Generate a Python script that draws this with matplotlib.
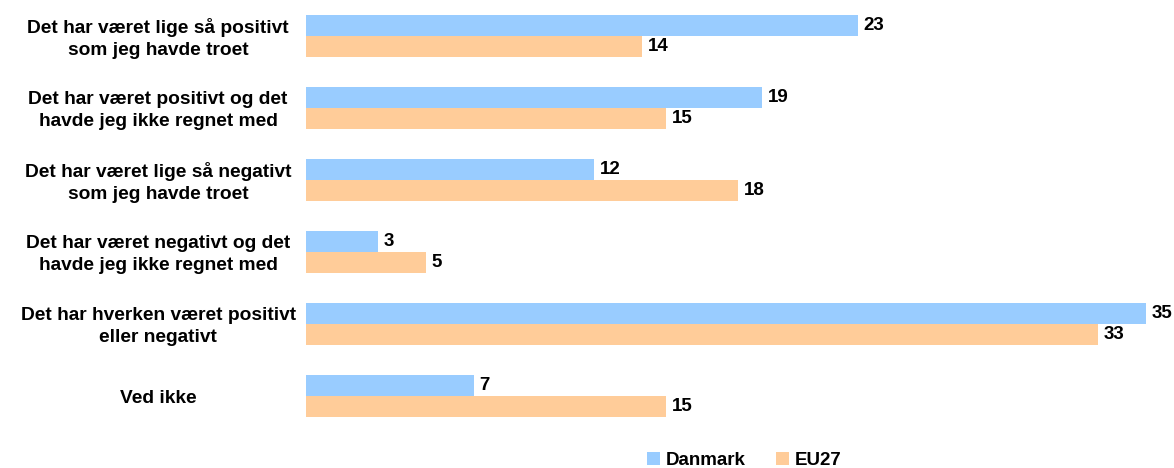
import matplotlib
matplotlib.use("Agg")
import matplotlib.pyplot as plt
import matplotlib.transforms as mtransforms
import numpy as np

categories = [
    "Det har været lige så positivt\nsom jeg havde troet",
    "Det har været positivt og det\nhavde jeg ikke regnet med",
    "Det har været lige så negativt\nsom jeg havde troet",
    "Det har været negativt og det\nhavde jeg ikke regnet med",
    "Det har hverken været positivt\neller negativt",
    "Ved ikke",
]
danmark = [23, 19, 12, 3, 35, 7]
eu27 = [14, 15, 18, 5, 33, 15]
series_names = ["Danmark", "EU27"]

plt.rcParams['font.family'] = ['Liberation Sans', 'DejaVu Sans']
FS = 13.5

W, H = 1174, 468
fig = plt.figure(figsize=(W / 100, H / 100), dpi=100)
ax = fig.add_axes([306 / W, (H - 432) / H, 852 / W, 432 / H])

y = np.arange(len(categories))
h = 0.29
b1 = ax.barh(y - 0.148, danmark, height=h, color="#99CCFF", label=series_names[0])
b2 = ax.barh(y + 0.148, eu27, height=h, color="#FFCC99", label=series_names[1])

for bars, vals in ((b1, danmark), (b2, eu27)):
    for bar, v in zip(bars, vals):
        ax.annotate(f"{v}", (bar.get_width(), bar.get_y() + bar.get_height() / 2),
                    xytext=(4, 0), textcoords="offset points", va="center", ha="left",
                    fontsize=FS, fontweight="bold")

ax.set_xlim(0, 35.5)
ax.set_ylim(5.5, -0.5)
ax.set_yticks(y)
ax.set_yticklabels(categories, fontsize=13.8, fontweight="bold", ha="center",
                   va="center", linespacing=1.4)
ax.tick_params(axis="y", length=0, pad=106.5)
shift = mtransforms.ScaledTranslation(0, -2.5 / 100, fig.dpi_scale_trans)
for lbl in ax.get_yticklabels():
    lbl.set_transform(lbl.get_transform() + shift)
ax.set_xticks([])
for s in ax.spines.values():
    s.set_visible(False)

fig.legend(handles=[b1, b2], labels=series_names, loc="center",
           bbox_to_anchor=(744 / W, 1 - 460.5 / H), ncol=2, frameon=False,
           prop={"size": FS, "weight": "bold"}, handlelength=0.7, handleheight=0.7,
           handletextpad=0.3, columnspacing=1.6, borderpad=0, borderaxespad=0)

fig.savefig("out.png", dpi=100)
